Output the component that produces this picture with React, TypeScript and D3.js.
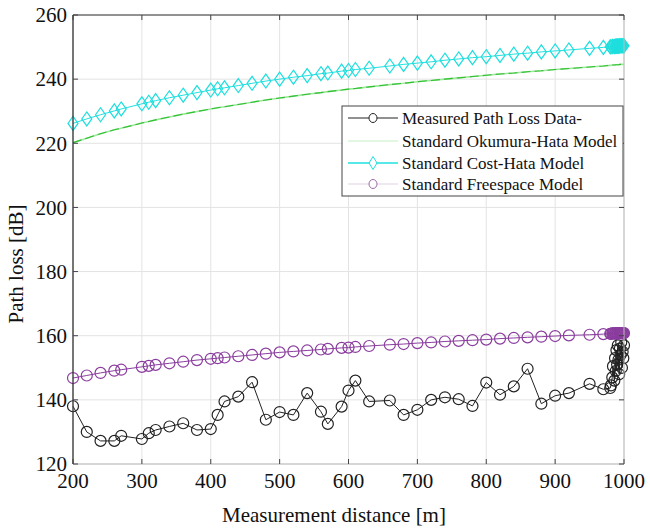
import React from 'react';
import * as d3 from 'd3';

// measurement distances [m]
const distance = [
  200, 220, 240, 260, 270, 300, 310, 320, 340, 360, 380, 400, 410, 420, 440, 460, 480, 500, 520, 540,
  560, 570, 590, 600, 610, 630, 660, 680, 700, 720, 740, 760, 780, 800, 820, 840, 860, 880, 900, 920,
  950, 970, 980, 981, 983, 984, 986, 987, 988, 989, 990, 991, 992, 993, 994, 995, 996, 997, 998, 999, 1000,
];

const measured = [
  138.0, 130.0, 127.2, 127.2, 128.8, 127.8, 129.6, 130.6, 131.7, 132.7, 130.6, 130.9, 135.3, 139.5, 141.0, 145.5, 133.8, 136.2, 135.3, 142.1,
  136.3, 132.5, 137.9, 142.9, 146.0, 139.5, 139.8, 135.3, 136.9, 140.0, 140.8, 140.2, 138.1, 145.4, 141.6, 144.2, 149.7, 138.8, 141.3, 142.1,
  145.0, 143.3, 143.7, 144.5, 147.0, 150.5, 146.0, 153.0, 149.0, 155.5, 151.0, 157.0, 152.5, 148.0, 156.0, 154.0, 158.0, 150.0, 155.0, 153.0, 157.0,
];

const okumuraHata = [
  220.2, 221.6, 223.0, 224.2, 224.7, 226.3, 226.8, 227.3, 228.2, 229.1, 229.9, 230.7, 231.1, 231.4, 232.1, 232.8, 233.5, 234.1, 234.7, 235.3,
  235.8, 236.1, 236.6, 236.9, 237.1, 237.6, 238.3, 238.7, 239.2, 239.6, 240.0, 240.4, 240.8, 241.2, 241.6, 241.9, 242.3, 242.6, 243.0, 243.3,
  243.8, 244.1, 244.3, 244.3, 244.4, 244.4, 244.4, 244.4, 244.5, 244.5, 244.5, 244.5, 244.5, 244.5, 244.6, 244.6, 244.6, 244.6, 244.6, 244.6, 244.6,
];

const costHata = [
  226.2, 227.6, 228.9, 230.1, 230.7, 232.3, 232.8, 233.3, 234.2, 235.0, 235.8, 236.6, 237.0, 237.3, 238.0, 238.7, 239.4, 240.0, 240.6, 241.1,
  241.7, 241.9, 242.5, 242.7, 243.0, 243.4, 244.1, 244.6, 245.0, 245.4, 245.9, 246.3, 246.7, 247.0, 247.4, 247.8, 248.1, 248.5, 248.8, 249.1,
  249.6, 249.9, 250.1, 250.1, 250.2, 250.2, 250.2, 250.2, 250.3, 250.3, 250.3, 250.3, 250.3, 250.3, 250.4, 250.4, 250.4, 250.4, 250.4, 250.4, 250.4,
];

const freespace = [
  146.8, 147.6, 148.4, 149.1, 149.4, 150.3, 150.6, 150.9, 151.4, 151.9, 152.4, 152.8, 153.0, 153.2, 153.6, 154.0, 154.4, 154.8, 155.1, 155.4,
  155.7, 155.9, 156.2, 156.3, 156.5, 156.8, 157.2, 157.4, 157.7, 157.9, 158.2, 158.4, 158.6, 158.8, 159.1, 159.3, 159.5, 159.7, 159.9, 160.1,
  160.3, 160.5, 160.6, 160.6, 160.7, 160.7, 160.7, 160.7, 160.7, 160.7, 160.7, 160.7, 160.7, 160.7, 160.8, 160.8, 160.8, 160.8, 160.8, 160.8, 160.8,
];

const xTicks = [200, 300, 400, 500, 600, 700, 800, 900, 1000];
const yTicks = [120, 140, 160, 180, 200, 220, 240, 260];

const legendLabels = [
  'Measured Path Loss Data-',
  'Standard Okumura-Hata Model',
  'Standard Cost-Hata Model',
  'Standard Freespace Model',
];

const width = 650;
const height = 529;
const left = 73;
const right = 624;
const top = 15;
const bottom = 464;

const serif = { fontFamily: '"Liberation Serif"' };

const x = d3.scaleLinear().domain([200, 1000]).range([left, right]);
const y = d3.scaleLinear().domain([120, 260]).range([bottom, top]);

const pts = distance.map((d, i) => i);
const lineOf = (vals: number[]) =>
  d3
    .line<number>()
    .x((i) => x(distance[i]))
    .y((i) => y(vals[i]))(pts) || '';

const circle = d3.symbol().type(d3.symbolCircle).size(95)() || '';
const diamond = 'M0,-7L5,0L0,7L-5,0Z';

const Markers = ({ vals, d, color }: { vals: number[]; d: string; color: string }) => (
  <g fill="none" stroke={color} strokeWidth={1.2}>
    {pts.map((i) => (
      <path key={i} d={d} transform={`translate(${x(distance[i])},${y(vals[i])})`} />
    ))}
  </g>
);

const App = () => {
  const rows = [118, 141, 163, 184];
  const lineColors = ['#222', '#c4f0c4', '#1fe0e0', '#ddd3e3'];
  const lineWidths = [1, 1.2, 1.6, 1.2];

  return (
    <div style={{ position: 'absolute', left: 0, top: 0 }}>
      <svg width={width} height={height} style={{ display: 'block' }}>
        <rect width={width} height={height} fill="white" />

        {/* grid */}
        <g stroke="#e3e3e3">
          {xTicks.map((t) => (
            <line key={t} x1={x(t)} x2={x(t)} y1={top} y2={bottom} />
          ))}
          {yTicks.map((t) => (
            <line key={t} x1={left} x2={right} y1={y(t)} y2={y(t)} />
          ))}
        </g>

        {/* measured */}
        <path d={lineOf(measured)} fill="none" stroke="#222" strokeWidth={1} />
        <Markers vals={measured} d={circle} color="#222" />

        {/* okumura-hata */}
        <path d={lineOf(okumuraHata)} fill="none" stroke="#9ee89e" strokeWidth={1.6} />
        <path d={lineOf(okumuraHata)} fill="none" stroke="#2fbf2f" strokeWidth={1.1} strokeDasharray="9,4" />

        {/* cost-hata */}
        <path d={lineOf(costHata)} fill="none" stroke="#1fe0e0" strokeWidth={1} />
        <Markers vals={costHata} d={diamond} color="#1fdede" />

        {/* freespace */}
        <path d={lineOf(freespace)} fill="none" stroke="#8a3d9e" strokeWidth={1} />
        <Markers vals={freespace} d={circle} color="#8a3d9e" />

        {/* frame */}
        <line x1={left} x2={right} y1={bottom} y2={bottom} stroke="#bbb" />
        <line x1={right} x2={right} y1={top} y2={bottom} stroke="#bbb" />
        <line x1={left} x2={right} y1={top} y2={top} stroke="#333" />
        <line x1={left} x2={left} y1={top} y2={bottom} stroke="#333" strokeWidth={1.3} />

        {/* inner ticks */}
        <g stroke="#444">
          {xTicks.map((t) => (
            <g key={t}>
              <line x1={x(t)} x2={x(t)} y1={top} y2={top + 5} />
              <line x1={x(t)} x2={x(t)} y1={bottom} y2={bottom - 5} />
            </g>
          ))}
          {yTicks.map((t) => (
            <g key={t}>
              <line x1={left} x2={left + 5} y1={y(t)} y2={y(t)} />
              <line x1={right} x2={right - 5} y1={y(t)} y2={y(t)} />
            </g>
          ))}
        </g>

        {/* tick labels */}
        {xTicks.map((t) => (
          <text key={t} x={x(t)} y={488} textAnchor="middle" fontSize={21} fill="#111" style={serif}>
            {t}
          </text>
        ))}
        {yTicks.map((t) => (
          <text key={t} x={67} y={y(t)} dy="0.35em" textAnchor="end" fontSize={21} fill="#111" style={serif}>
            {t}
          </text>
        ))}

        <text x={334} y={522} textAnchor="middle" fontSize={21} fill="#111" style={serif}>
          Measurement distance [m]
        </text>
        <text transform="translate(23,264) rotate(-90)" textAnchor="middle" fontSize={21} fill="#111" style={serif}>
          Path loss [dB]
        </text>

        {/* legend */}
        <rect x={342} y={106} width={281} height={90} fill="white" stroke="#444" />
        {legendLabels.map((label, i) => {
          const ry = rows[i];
          return (
            <g key={label}>
              <line x1={348} x2={398} y1={ry} y2={ry} stroke={lineColors[i]} strokeWidth={lineWidths[i]} />
              {(i === 0 || i === 3) && (
                <ellipse cx={373} cy={ry} rx={4} ry={4.5} fill="white" stroke={i === 0 ? '#222' : '#9b6aab'} />
              )}
              {i === 2 && (
                <path d="M0,-6.5L4,0L0,6.5L-4,0Z" transform={`translate(373,${ry})`} fill="white" stroke="#1fdede" />
              )}
              <text x={402} y={ry} dy="0.33em" fontSize={17} fill="#111" style={serif}>
                {label}
              </text>
            </g>
          );
        })}
      </svg>
    </div>
  );
};

export default App;
